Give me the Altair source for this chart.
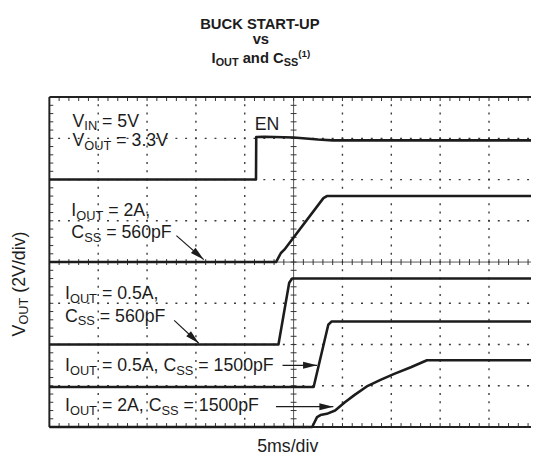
import math
import altair as alt
import pandas as pd

# ---------------- plot geometry (divisions) ----------------
XMAX = 9.86          # time divisions visible (5 ms/div)
YMAX = 8.0           # voltage divisions (2 V/div)
W, H = 489, 335
PXX = W / XMAX
PXY = H / YMAX
FONT = "Liberation Sans"
INK = "#1c1c1c"

# ---------------- traces (t in div, v in div) ----------------
en_t = [0, 4.23, 4.235, 4.4, 5.0, 5.5, 5.8, 9.86]
en_v = [6.0, 6.0, 7.03, 7.04, 7.02, 6.97, 6.95, 6.95]

i2_c560_t = [0, 4.64, 4.74, 4.81, 5.61, 5.68, 9.86]
i2_c560_v = [4.0, 4.0, 4.22, 4.30, 5.55, 5.60, 5.60]

i05_c560_t = [0, 4.69, 4.91, 4.97, 9.86]
i05_c560_v = [2.0, 2.0, 3.50, 3.60, 3.60]

i05_c1500_t = [0, 5.41, 5.71, 5.78, 9.86]
i05_c1500_v = [0.97, 0.97, 2.48, 2.56, 2.56]

i2_c1500_t = [0, 5.38, 5.48, 5.55, 5.68, 5.85, 6.05, 6.25, 6.52, 6.79, 7.06, 7.40, 7.73, 9.86]
i2_c1500_v = [0, 0, 0.24, 0.29, 0.32, 0.40, 0.60, 0.78, 1.00, 1.15, 1.29, 1.45, 1.62, 1.62]

traces = {
    "EN": (en_t, en_v),
    "2A_560": (i2_c560_t, i2_c560_v),
    "05A_560": (i05_c560_t, i05_c560_v),
    "05A_1500": (i05_c1500_t, i05_c1500_v),
    "2A_1500": (i2_c1500_t, i2_c1500_v),
}

# ---------------- grid ----------------
grid_t = [1, 2, 3, 4, 6, 7, 8, 9]
grid_v = [1, 2, 3, 5, 6, 7]
center_t = 5
center_v = 4
minor_t = [round(k * 0.2, 2) for k in range(1, 50)]
minor_v = [round(k * 0.2, 2) for k in range(1, 40)]

# ---------------- arrows: (t_start, v_start, t_tip, v_tip) ----------------
arrow_t0 = [2.60, 2.555, 4.773, 4.638]
arrow_v0 = [4.64, 2.586, 1.497, 0.494]
arrow_t1 = [3.16, 3.059, 5.479, 5.813]
arrow_v1 = [4.06, 2.03, 1.497, 0.494]

# ---------------- labels ----------------
inside_labels = [
    ([("V", "n"), ("IN", "sub"), (" = 5V", "n")], 0.474, 7.284),
    ([("V", "n"), ("OUT", "sub"), (" = 3.3V", "n")], 0.474, 6.806),
    ([("EN", "n")], 4.204, 7.212),
    ([("I", "n"), ("OUT", "sub"), (" = 2A,", "n")], 0.45, 5.11),
    ([("C", "n"), ("SS", "sub"), (" = 560pF", "n")], 0.45, 4.585),
    ([("I", "n"), ("OUT", "sub"), (" = 0.5A,", "n")], 0.32, 3.104),
    ([("C", "n"), ("SS", "sub"), (" = 560pF", "n")], 0.32, 2.555),
    ([("I", "n"), ("OUT", "sub"), (" = 0.5A, C", "n"), ("SS", "sub"), (" = 1500pF", "n")], 0.32, 1.361),
    ([("I", "n"), ("OUT", "sub"), (" = 2A, C", "n"), ("SS", "sub"), (" = 1500pF", "n")], 0.32, 0.382),
]
title_lines = [
    ([("BUCK START-UP", "n")], 4.33, 9.648),
    ([("vs", "n")], 4.33, 9.278),
    ([("I", "n"), ("OUT", "sub"), (" and C", "n"), ("SS", "sub"), ("(1)", "sup")], 4.33, 8.836),
]
x_title = ([("5ms/div", "n")], 4.88, -0.597)
y_title = ([("V", "n"), ("OUT", "sub"), (" (2V/div)", "n")], -0.504, 2.197)

# Arial / Liberation Sans advance widths (per 1000 em)
REG = {" ": 278, "=": 584, ",": 278, ".": 278, "/": 278, "(": 333, ")": 333, "-": 333,
       "A": 667, "B": 667, "C": 722, "E": 667, "F": 611, "I": 278, "K": 667, "N": 722,
       "O": 778, "P": 667, "S": 667, "T": 611, "U": 722, "V": 667,
       "a": 556, "d": 556, "i": 222, "m": 833, "n": 556, "p": 556, "s": 500, "v": 500}
BOLD = {" ": 278, "-": 333, "(": 333, ")": 333, "A": 722, "B": 722, "C": 722, "I": 278,
        "K": 722, "O": 778, "P": 667, "R": 722, "S": 667, "T": 611, "U": 722,
        "a": 556, "d": 611, "n": 611, "s": 556, "v": 556}


def text_width(s, size, bold):
    table = BOLD if bold else REG
    return sum(table.get(c, 556) for c in s) * size / 1000.0


def build(label, main, sub, sup, bold=False, centered=False, rotated=False):
    pieces, t0, v0 = label
    sizes = {"n": main, "sub": sub, "sup": sup}
    shifts = {"n": 0.0, "sub": 3.8 * main / 18, "sup": -6.5 * main / 18}
    total = sum(text_width(p, sizes[k], bold) for p, k in pieces)
    cur = -total / 2 if centered else 0.0
    rows = []
    for p, k in pieces:
        lead = len(p) - len(p.lstrip(" "))
        cur += text_width(" " * lead, sizes[k], bold)   # leading blanks are trimmed by the renderer
        shown = p.strip(" ")
        if rotated:
            rows.append({"t": t0 + shifts[k] / PXX, "v": v0 + cur / PXY, "txt": shown, "fs": sizes[k]})
        else:
            rows.append({"t": t0 + cur / PXX, "v": v0 - shifts[k] / PXY, "txt": shown, "fs": sizes[k]})
        cur += text_width(p.lstrip(" "), sizes[k], bold)
    return rows


# ---------------- data frames ----------------
line_rows = []
for name, (ts, vs) in traces.items():
    for i, (t, v) in enumerate(zip(ts, vs)):
        line_rows.append({"trace": name, "i": i, "t": t, "v": v})
lines_df = pd.DataFrame(line_rows)

xs = alt.Scale(domain=[0, XMAX], nice=False, zero=False)
ys = alt.Scale(domain=[0, YMAX], nice=False, zero=False)


def X(f):
    return alt.X(f, type="quantitative", scale=xs, axis=None)


def Y(f):
    return alt.Y(f, type="quantitative", scale=ys, axis=None)


layers = []

# dotted grid
vgrid = pd.DataFrame({"t": grid_t, "v0": 0.0, "v1": YMAX})
hgrid = pd.DataFrame({"v": grid_v, "t0": 0.0, "t1": XMAX})
layers.append(alt.Chart(vgrid).mark_rule(color="#3a3a3a", strokeWidth=1.4,
                                          strokeDash=[2, PXY / 5 - 2], strokeDashOffset=1)
              .encode(x=X("t"), y=Y("v0"), y2="v1"))
layers.append(alt.Chart(hgrid).mark_rule(color="#3a3a3a", strokeWidth=1.4,
                                          strokeDash=[2, PXX / 5 - 2], strokeDashOffset=1)
              .encode(x=X("t0"), x2="t1", y=Y("v")))

# center cross lines
layers.append(alt.Chart(pd.DataFrame({"t": [center_t], "v0": [0.0], "v1": [YMAX]}))
              .mark_rule(color="#555", strokeWidth=1).encode(x=X("t"), y=Y("v0"), y2="v1"))
layers.append(alt.Chart(pd.DataFrame({"v": [center_v], "t0": [0.0], "t1": [XMAX]}))
              .mark_rule(color="#555", strokeWidth=1).encode(x=X("t0"), x2="t1", y=Y("v")))

# tick marks
TV = 4 / PXY
TT = 4 / PXX
CV = 3 / PXY
CT = 3 / PXX
tick_rows_v = []
for t in minor_t:
    tick_rows_v.append({"t": t, "v0": YMAX - TV, "v1": YMAX})
    tick_rows_v.append({"t": t, "v0": 0.0, "v1": TV})
    tick_rows_v.append({"t": t, "v0": center_v - CV, "v1": center_v + CV})
tick_rows_h = []
for v in minor_v:
    tick_rows_h.append({"v": v, "t0": 0.0, "t1": TT})
    tick_rows_h.append({"v": v, "t0": center_t - CT, "t1": center_t + CT})
layers.append(alt.Chart(pd.DataFrame(tick_rows_v)).mark_rule(color="#333", strokeWidth=1)
              .encode(x=X("t"), y=Y("v0"), y2="v1"))
layers.append(alt.Chart(pd.DataFrame(tick_rows_h)).mark_rule(color="#333", strokeWidth=1)
              .encode(x=X("t0"), x2="t1", y=Y("v")))

# border (top, bottom, left)
border_h = pd.DataFrame({"v": [0.0, YMAX], "t0": [0.0, 0.0], "t1": [XMAX, XMAX]})
border_v = pd.DataFrame({"t": [0.0], "v0": [0.0], "v1": [YMAX]})
layers.append(alt.Chart(border_h).mark_rule(color="#222", strokeWidth=2)
              .encode(x=X("t0"), x2="t1", y=Y("v")))
layers.append(alt.Chart(border_v).mark_rule(color="#222", strokeWidth=2)
              .encode(x=X("t"), y=Y("v0"), y2="v1"))

# traces
layers.append(alt.Chart(lines_df).mark_line(color=INK, strokeWidth=2.6, strokeJoin="round")
              .encode(x=X("t"), y=Y("v"), detail="trace:N", order="i:Q"))

# arrows
arr = pd.DataFrame({"t0": arrow_t0, "v0": arrow_v0, "t1": arrow_t1, "v1": arrow_v1})
arr["ang"] = [
    (math.degrees(math.atan2(-(b1 - b0) * PXY, (a1 - a0) * PXX)) + 90) % 360
    for a0, b0, a1, b1 in zip(arrow_t0, arrow_v0, arrow_t1, arrow_v1)
]
layers.append(alt.Chart(arr).mark_rule(color=INK, strokeWidth=1.2)
              .encode(x=X("t0"), y=Y("v0"), x2="t1", y2="v1"))
layers.append(alt.Chart(arr).mark_point(shape="M0,0L0.25,1L-0.25,1Z", filled=True, size=800,
                                        color=INK, opacity=1, strokeWidth=0)
              .encode(x=X("t1"), y=Y("v1"), angle=alt.Angle("ang:Q", scale=None)))

# texts
normal_rows = []
for lab in inside_labels:
    normal_rows += build(lab, 18, 13, 12)
normal_rows += build(x_title, 18, 13, 12, centered=True)
bold_rows = []
for lab in title_lines:
    bold_rows += build(lab, 15, 11, 10, bold=True, centered=True)
rot_rows = build(y_title, 18, 13, 12, rotated=True)

layers.append(alt.Chart(pd.DataFrame(normal_rows))
              .mark_text(align="left", baseline="alphabetic", font=FONT, color=INK)
              .encode(x=X("t"), y=Y("v"), text="txt:N", size=alt.Size("fs:Q", scale=None, legend=None)))
layers.append(alt.Chart(pd.DataFrame(bold_rows))
              .mark_text(align="left", baseline="alphabetic", font=FONT, fontWeight="bold", color=INK)
              .encode(x=X("t"), y=Y("v"), text="txt:N", size=alt.Size("fs:Q", scale=None, legend=None)))
layers.append(alt.Chart(pd.DataFrame(rot_rows))
              .mark_text(align="left", baseline="alphabetic", font=FONT, color=INK, angle=270)
              .encode(x=X("t"), y=Y("v"), text="txt:N", size=alt.Size("fs:Q", scale=None, legend=None)))

chart = alt.layer(*layers).properties(
    width=W, height=H,
    autosize=alt.AutoSizeParams(type="none"),
    padding={"left": 42, "top": 87, "right": 0, "bottom": 28},
    background="white",
).configure_view(stroke=None)

chart.save("out.html", embed_options={"renderer": "svg", "actions": False})
